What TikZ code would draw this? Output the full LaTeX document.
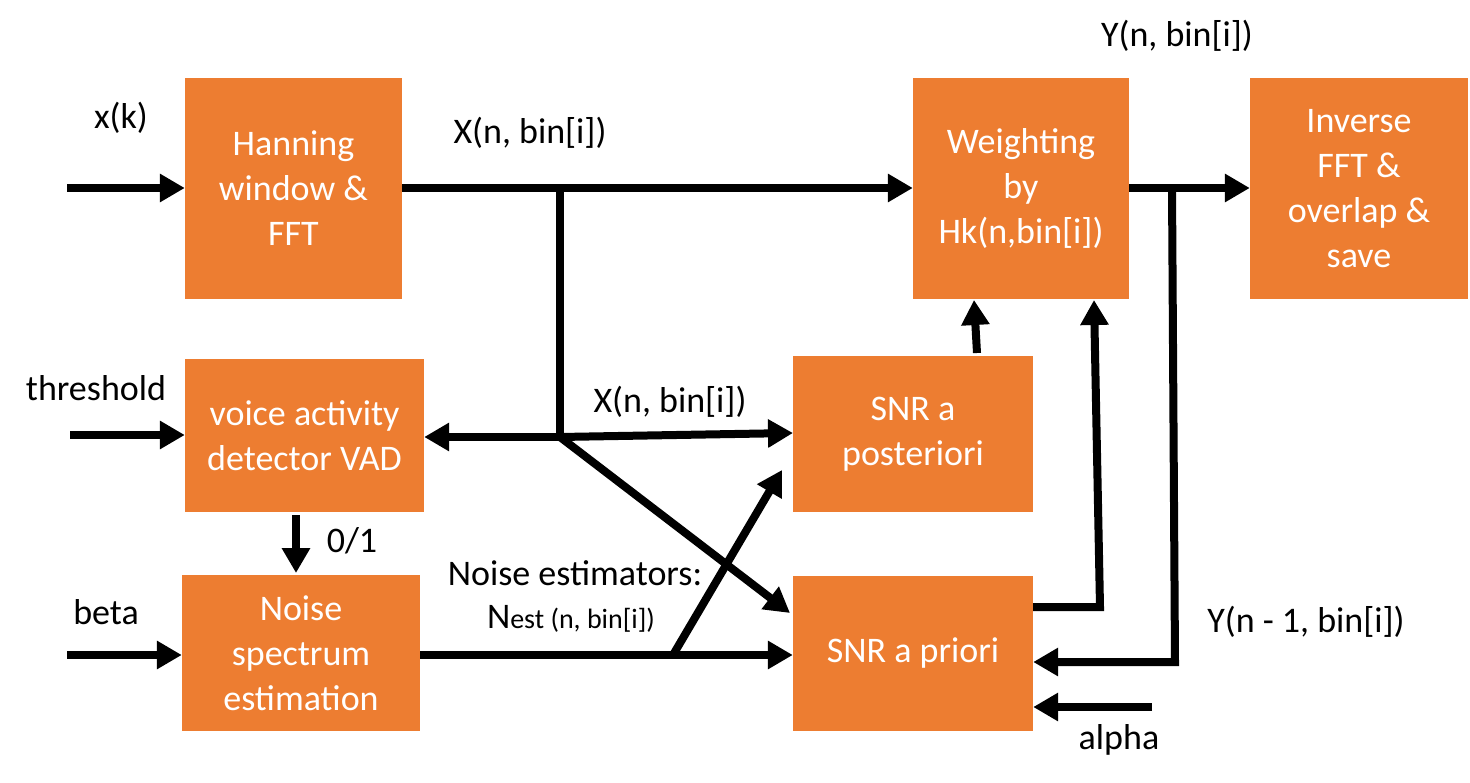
\documentclass[tikz,border=0pt]{standalone}
\usepackage{fontspec}
\setmainfont{Carlito}
\usetikzlibrary{arrows.meta}
\definecolor{boxorange}{HTML}{ED7D31}
\begin{document}
\begin{tikzpicture}[x=1pt,y=-1pt,
  block/.style={rectangle,fill=boxorange,text=white,align=center,inner sep=0pt,
    font=\fontsize{36}{45}\selectfont},
  lbl/.style={inner sep=0pt,font=\fontsize{36}{45}\selectfont},
  conn/.style={line width=8pt,line join=miter},
  arr/.style={conn,-{Triangle[length=25pt,width=27pt]}}]
\useasboundingbox (0,0) rectangle (1470,783);
% blocks
\node[block,minimum width=217pt,minimum height=221pt] (han) at (293.5,188.5) {Hanning\\window \&\\FFT};
\node[block,minimum width=239pt,minimum height=153pt] (vad) at (304.5,435.5) {voice activity\\detector VAD};
\node[block,minimum width=238pt,minimum height=156pt] (nse) at (301,653) {Noise\\spectrum\\estimation};
\node[block,minimum width=240pt,minimum height=156pt] (post) at (913,434) {SNR a\\posteriori};
\node[block,minimum width=240pt,minimum height=155pt] (prio) at (913,653.5) {SNR a priori};
\node[block,minimum width=216pt,minimum height=221pt] (wgt) at (1021,188.5) {Weighting\\by\\Hk(n,bin[i])};
\node[block,minimum width=218pt,minimum height=221pt] (inv) at (1359,188.5) {Inverse\\FFT \&\\overlap \&\\save};
% labels
\node[lbl] (lxk) at (121,118) {x(k)};
\node[lbl] (lx1) at (530,133) {X(n, bin[i])};
\node[lbl] (ly1) at (1177,36) {Y(n, bin[i])};
\node[lbl] (lthr) at (96,388) {threshold};
\node[lbl] (lx2) at (670,402) {X(n, bin[i])};
\node[lbl] (l01) at (352,541) {0/1};
\node[lbl] (lbeta) at (106,612) {beta};
\node[lbl] (lne) at (575,573) {Noise estimators:};
\node[lbl,anchor=base] (lnest) at (571,628) {N{\fontsize{28}{34}\selectfont est (n, bin[i])}};
\node[lbl] (ly2) at (1306,622) {Y(n - 1, bin[i])};
\node[lbl] (lalpha) at (1119,740) {alpha};
% coordinates
\coordinate (inx) at (67,188);
\coordinate (inthr) at (70,435);
\coordinate (inbeta) at (67,655);
\coordinate (j1) at (560,188);
\coordinate (j2) at (560,437);
\coordinate (j3) at (673,655);
\coordinate (j4) at (1172,188);
\coordinate (c1) at (1175,662);
\coordinate (c2) at (1100,607);
\coordinate (inalpha) at (1152,707);
% connectors
\draw[arr] (inx) -- (han.west |- inx);
\draw[arr] (han.east |- inx) -- (wgt.west |- inx);
\draw[conn] (j1) -- (j2);
\draw[arr] (j2) -- (vad.east |- j2);
\draw[arr] (j2) -- (793,433);
\draw[arr] (j2) -- (790,613);
\draw[arr] (inthr) -- (vad.west |- inthr);
\draw[arr] (inbeta) -- (nse.west |- inbeta);
\draw[arr] (nse.east |- inbeta) -- (prio.west |- inbeta);
\draw[arr] (j3) -- (782,470);
\draw[arr] (296,515) -- (296,573);
\draw[arr] (977,353) -- (974,300);
\draw[arr] (prio.east |- c2) -- (c2) -- (1094,300);
\draw[arr] (wgt.east |- j4) -- (inv.west |- j4);
\draw[arr] (j4) -- (c1) -- (prio.east |- c1);
\draw[arr] (inalpha) -- (prio.east |- inalpha);
\end{tikzpicture}
\end{document}
